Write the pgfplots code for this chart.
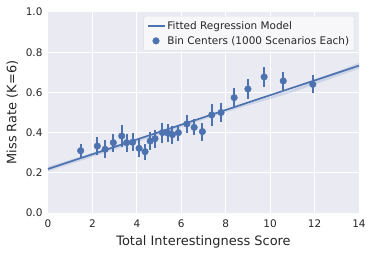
\documentclass[border=0pt]{standalone}
\usepackage{fontspec}
\setmainfont{DejaVu Sans}
\usepackage{pgfplots}
\pgfplotsset{compat=1.18}
\definecolor{sbblue}{HTML}{4C72B0}
\definecolor{sbbg}{HTML}{EAEAF2}
\definecolor{sbtext}{HTML}{262626}
\begin{document}
\begin{tikzpicture}
\begin{axis}[
  scale only axis, width=311bp, height=201bp,
  xmin=0, xmax=14, ymin=0, ymax=1,
  xtick={0,2,4,6,8,10,12,14},
  ytick={0,0.2,0.4,0.6,0.8,1.0},
  yticklabel style={/pgf/number format/fixed, /pgf/number format/precision=1, /pgf/number format/fixed zerofill, xshift=-2bp},
  xticklabel style={yshift=-3bp},
  /pgf/number format/assume math mode=true,
  axis background/.style={fill=sbbg},
  axis line style={draw=none},
  major tick length=0pt,
  grid=major, grid style={white, line width=1bp},
  tick label style={font=\fontsize{10.5}{12}\selectfont, text=sbtext},
  label style={font=\fontsize{13}{15}\selectfont, text=sbtext},
  xlabel={Total Interestingness Score},
  ylabel={Miss Rate (K=6)},
  xlabel style={yshift=-1bp},
  ylabel style={yshift=1bp},
  legend style={at={(0.985,0.98)}, anchor=north east, fill=sbbg!40!white, draw=black!12, rounded corners=2bp, font=\fontsize{10.5}{12}\selectfont, text=sbtext, row sep=1.5bp, inner sep=3bp},
  legend cell align=left,
]
\coordinate (tr) at (rel axis cs:1,1);
\coordinate (bl) at (rel axis cs:0,0);
% confidence band
\addplot[draw=none, fill=sbblue, fill opacity=0.18, forget plot] coordinates {
 (0,0.231) (3,0.332) (6,0.436) (8,0.508) (11,0.615) (14,0.748)
 (14,0.718) (11,0.600) (8,0.502) (6,0.426) (3,0.315) (0,0.207) } -- cycle;
\addplot[sbblue, line width=1.7bp] coordinates {(0,0.219) (14,0.733)};
\addlegendentry{Fitted Regression Model}
\addplot[sbblue, only marks, mark=*, mark size=3.3bp, mark options={draw=sbblue, fill=sbblue},
  error bars/.cd, y dir=both, y explicit, error bar style={line width=2bp, sbblue}, error mark=none]
 table[x=x, y=y, y error=e] {
 x y e
 1.47 0.310 0.035
 2.22 0.333 0.045
 2.57 0.317 0.045
 2.94 0.350 0.045
 3.32 0.383 0.055
 3.54 0.350 0.045
 3.81 0.352 0.045
 4.10 0.322 0.045
 4.37 0.305 0.040
 4.60 0.358 0.045
 4.82 0.370 0.045
 5.15 0.400 0.050
 5.40 0.397 0.045
 5.60 0.390 0.045
 5.87 0.400 0.040
 6.25 0.443 0.045
 6.58 0.426 0.040
 6.95 0.405 0.045
 7.37 0.488 0.055
 7.79 0.500 0.045
 8.38 0.574 0.050
 9.00 0.617 0.050
 9.73 0.677 0.050
 10.59 0.657 0.045
 11.92 0.640 0.045
 };
\addlegendentry{Bin Centers (1000 Scenarios Each)}
\end{axis}
\path (tr) ++(15bp,12bp);
\path (bl) ++(-48bp,-42bp);
\end{tikzpicture}
\end{document}
